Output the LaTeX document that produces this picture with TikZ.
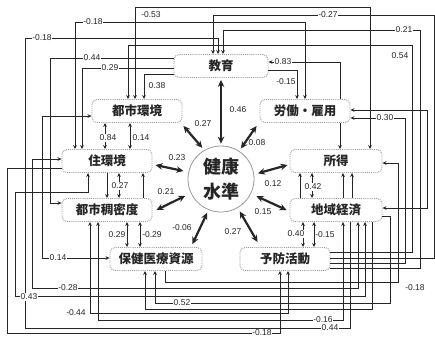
\documentclass[tikz,border=0pt]{standalone}
\usepackage{fontspec}
\setmainfont{Liberation Sans}
\newfontfamily\jp{Noto Sans CJK JP}
\usetikzlibrary{arrows.meta,calc}
\definecolor{ink}{HTML}{262626}
\begin{document}
\begin{tikzpicture}[x=1pt,y=-1pt,
  box/.style={draw=gray!80, densely dotted, line width=0.9pt, rounded corners=5pt,
    minimum width=90pt, minimum height=23pt, inner sep=0pt, fill=white,
    font=\jp\bfseries\fontsize{12.5}{13}\selectfont, text=ink},
  circ/.style={circle, draw=gray!80, line width=0.8pt, minimum size=66pt, inner sep=0pt,
    align=center, font=\jp\bfseries\fontsize{18}{25}\selectfont, text=ink},
  conn/.style={draw=ink, line width=0.9pt, -{Stealth[length=4pt,width=3.6pt]}},
  conntwo/.style={draw=ink, line width=0.9pt, {Stealth[length=4pt,width=3.6pt]}-{Stealth[length=4pt,width=3.6pt]}},
  big/.style={draw=ink, line width=2.2pt, {Stealth[length=7pt,width=6.5pt]}-{Stealth[length=7pt,width=6.5pt]}},
  lbl/.style={font=\fontsize{8.5}{9}\selectfont, text=ink, inner sep=0.8pt, fill=white},
  blbl/.style={font=\fontsize{8.5}{9}\selectfont, text=ink, inner sep=0.5pt}]
\useasboundingbox (0,0) rectangle (435,341);
\fill[white] (0,0) rectangle (435,341);

% ---------- nodes ----------
\node[box, minimum width=94pt] (edu) at (221,66) {教育};
\node[box] (toshi) at (137,111) {都市環境};
\node[box] (rodo) at (305,111) {労働・雇用};
\node[box] (jukan) at (107,161) {住環境};
\node[box, minimum width=92pt] (shotoku) at (336,161) {所得};
\node[box] (mitsu) at (107,210) {都市稠密度};
\node[box, minimum width=92pt] (chiiki) at (336,210) {地域経済};
\node[box, minimum width=92pt] (hoken) at (156,259) {保健医療資源};
\node[box] (yobo) at (285,259) {予防活動};
\node[circ] (kenko) at (221,179) {健康\\水準};

% ---------- top band ----------
\draw[conntwo] (toshi.north -| 135,0) -- (135,7) -- (370,7) -- (shotoku.north -| 370,0);
\draw[conn] (yobo.east |- 0,258) -- (434,258) -- (434,15) -- (213,15) -- (edu.north -| 213,0);
\draw[conntwo] (jukan.north -| 75,0) -- (75,22) -- (305,22) -- (rodo.north -| 305,0);
\draw[conn] (yobo.east |- 0,268) -- (420,268) -- (420,30) -- (223,30) -- (edu.north -| 223,0);
\draw[conn] (chiiki.south -| 350,0) -- (350,328) -- (25,328) -- (25,38) -- (218,38) -- (edu.north -| 218,0);
\draw[conn] (yobo.east |- 0,252) -- (412,252) -- (412,45) -- (128,45) -- (toshi.north -| 128,0);
\draw[conn] (edu.west |- 0,58) -- (50,58) -- (50,203) -- (mitsu.west |- 0,203);
\draw[conn] (edu.west |- 0,68) -- (82,68) -- (jukan.north -| 82,0);
\draw[conn] (edu.west |- 0,74) -- (144,74) -- (toshi.north -| 144,0);
\draw[conn] (rodo.north -| 340,0) -- (340,62) -- (edu.east |- 0,62);
\draw[conn] (edu.east |- 0,70) -- (297,70) -- (rodo.north -| 297,0);
\draw[conn] (rodo.south -| 340,0) -- (shotoku.north -| 340,0);

% ---------- right side ----------
\draw[conn] (yobo.east |- 0,263) -- (405,263) -- (405,118) -- (rodo.east |- 0,118);
\draw[conntwo] (chiiki.east |- 0,208) -- (427,208) -- (427,110) -- (rodo.east |- 0,110);
\draw[conn] (hoken.south -| 165,0) -- (165,282) -- (398,282) -- (398,163) -- (shotoku.east |- 0,163);
\draw[conn] (chiiki.east |- 0,216) -- (390,216) -- (390,303) -- (155,303) -- (hoken.south -| 155,0);
\draw[conn] (chiiki.south -| 372,0) -- (372,309) -- (145,309) -- (hoken.south -| 145,0);

% ---------- left side / bottom ----------
\draw[conn] (jukan.west |- 0,168) -- (7,168) -- (7,333) -- (280,333) -- (yobo.south -| 280,0);
\draw[conntwo] (chiiki.south -| 365,0) -- (365,296) -- (15,296) -- (15,192) -- (88,192) -- (jukan.south -| 88,0);
\draw[conntwo] (chiiki.south -| 358,0) -- (358,288) -- (32,288) -- (32,159) -- (jukan.west |- 0,159);
\draw[conntwo] (hoken.west |- 0,258) -- (42,258) -- (42,116) -- (toshi.west |- 0,116);
\draw[conntwo] (yobo.south -| 288,0) -- (288,313) -- (90,313) -- (mitsu.south -| 90,0);
\draw[conntwo] (chiiki.south -| 343,0) -- (343,320) -- (98,320) -- (mitsu.south -| 98,0);

% ---------- short links between neighbours ----------
\draw[conntwo] (toshi.south -| 105,0) -- (jukan.north -| 105,0);
\draw[conntwo] (toshi.south -| 130,0) -- (jukan.north -| 130,0);
\draw[conn] (jukan.south -| 107,0) -- (mitsu.north -| 107,0);
\draw[conntwo] (jukan.south -| 119,0) -- (mitsu.north -| 119,0);
\draw[conn] (mitsu.north -| 143,0) -- (jukan.south -| 143,0);
\draw[conntwo] (mitsu.south -| 127,0) -- (hoken.north -| 127,0);
\draw[conntwo] (mitsu.south -| 140,0) -- (hoken.north -| 140,0);
\draw[conn] (chiiki.north -| 300,0) -- (shotoku.south -| 300,0);
\draw[conntwo] (chiiki.north -| 312,0) -- (shotoku.south -| 312,0);
\draw[conn] (chiiki.north -| 343,0) -- (shotoku.south -| 343,0);
\draw[conn] (chiiki.north -| 352,0) -- (shotoku.south -| 352,0);
\draw[conntwo] (chiiki.south -| 303,0) -- (yobo.north -| 303,0);
\draw[conntwo] (chiiki.south -| 314,0) -- (yobo.north -| 314,0);

% ---------- thick links to the centre ----------
\draw[big, shorten <=2pt, shorten >=2pt] (edu.south -| 221,0) -- (kenko.north);
\draw[big, shorten >=3pt] ($(toshi.south east)+(1,3)$) -- (kenko.120);
\draw[big, shorten >=3pt] ($(rodo.south west)+(-3,3)$) -- (kenko.57);
\draw[big, shorten >=5pt] ($(jukan.east)+(3,4)$) -- (kenko.168);
\draw[big, shorten >=4pt] ($(shotoku.west)+(-2,4)$) -- (kenko.8);
\draw[big, shorten >=6pt] ($(mitsu.east)+(4,0)$) -- (kenko.205);
\draw[big, shorten >=6pt] ($(chiiki.west)+(-3,0)$) -- (kenko.-26);
\draw[big, shorten >=3pt] ($(hoken.north east)+(-10,-3)$) -- (kenko.248);
\draw[big, shorten <=4pt] (kenko.-60) -- ($(yobo.north west)+(18,-5)$);

% ---------- labels ----------
\node[lbl] (n1) at (151,15) {-0.53};
\node[lbl] (n2) at (328,15) {-0.27};
\node[lbl] (n3) at (93,22) {-0.18};
\node[lbl] (n4) at (404,30) {0.21};
\node[lbl] (n5) at (42,38) {-0.18};
\node[lbl] (n6) at (400,56) {0.54};
\node[lbl] (n7) at (92,58) {0.44};
\node[lbl] (n8) at (110,68) {0.29};
\node[lbl] (n9) at (157,86) {0.38};
\node[lbl] (n10) at (283,62) {0.83};
\node[lbl] (n11) at (286,82) {-0.15};
\node[lbl] (n12) at (385,118) {0.30};
\node[lbl] (n13) at (108,138) {0.84};
\node[lbl] (n14) at (141,138) {0.14};
\node[lbl] (n15) at (120,186) {0.27};
\node[lbl] (n16) at (313,187) {0.42};
\node[lbl] (n17) at (117,235) {0.29};
\node[lbl] (n18) at (152,235) {-0.29};
\node[lbl] (n19) at (296,234) {0.40};
\node[lbl] (n20) at (325,235) {-0.15};
\node[lbl] (n21) at (58,258) {0.14};
\node[lbl] (n22) at (415,288) {-0.18};
\node[lbl] (n23) at (68,288) {-0.28};
\node[lbl] (n24) at (29,297) {0.43};
\node[lbl] (n25) at (182,303) {0.52};
\node[lbl] (n26) at (76,313) {-0.44};
\node[lbl] (n27) at (323,320) {-0.16};
\node[lbl] (n28) at (330,328) {0.44};
\node[lbl] (n29) at (262,333) {-0.18};

\node[blbl] (m1) at (238,110) {0.46};
\node[blbl] (m2) at (203,124) {0.27};
\node[blbl] (m3) at (257,143) {0.08};
\node[blbl] (m4) at (177,158) {0.23};
\node[blbl] (m5) at (273,184) {0.12};
\node[blbl] (m6) at (166,192) {0.21};
\node[blbl] (m7) at (263,212) {0.15};
\node[blbl] (m8) at (182,228) {-0.06};
\node[blbl] (m9) at (233,232) {0.27};
\end{tikzpicture}
\end{document}
